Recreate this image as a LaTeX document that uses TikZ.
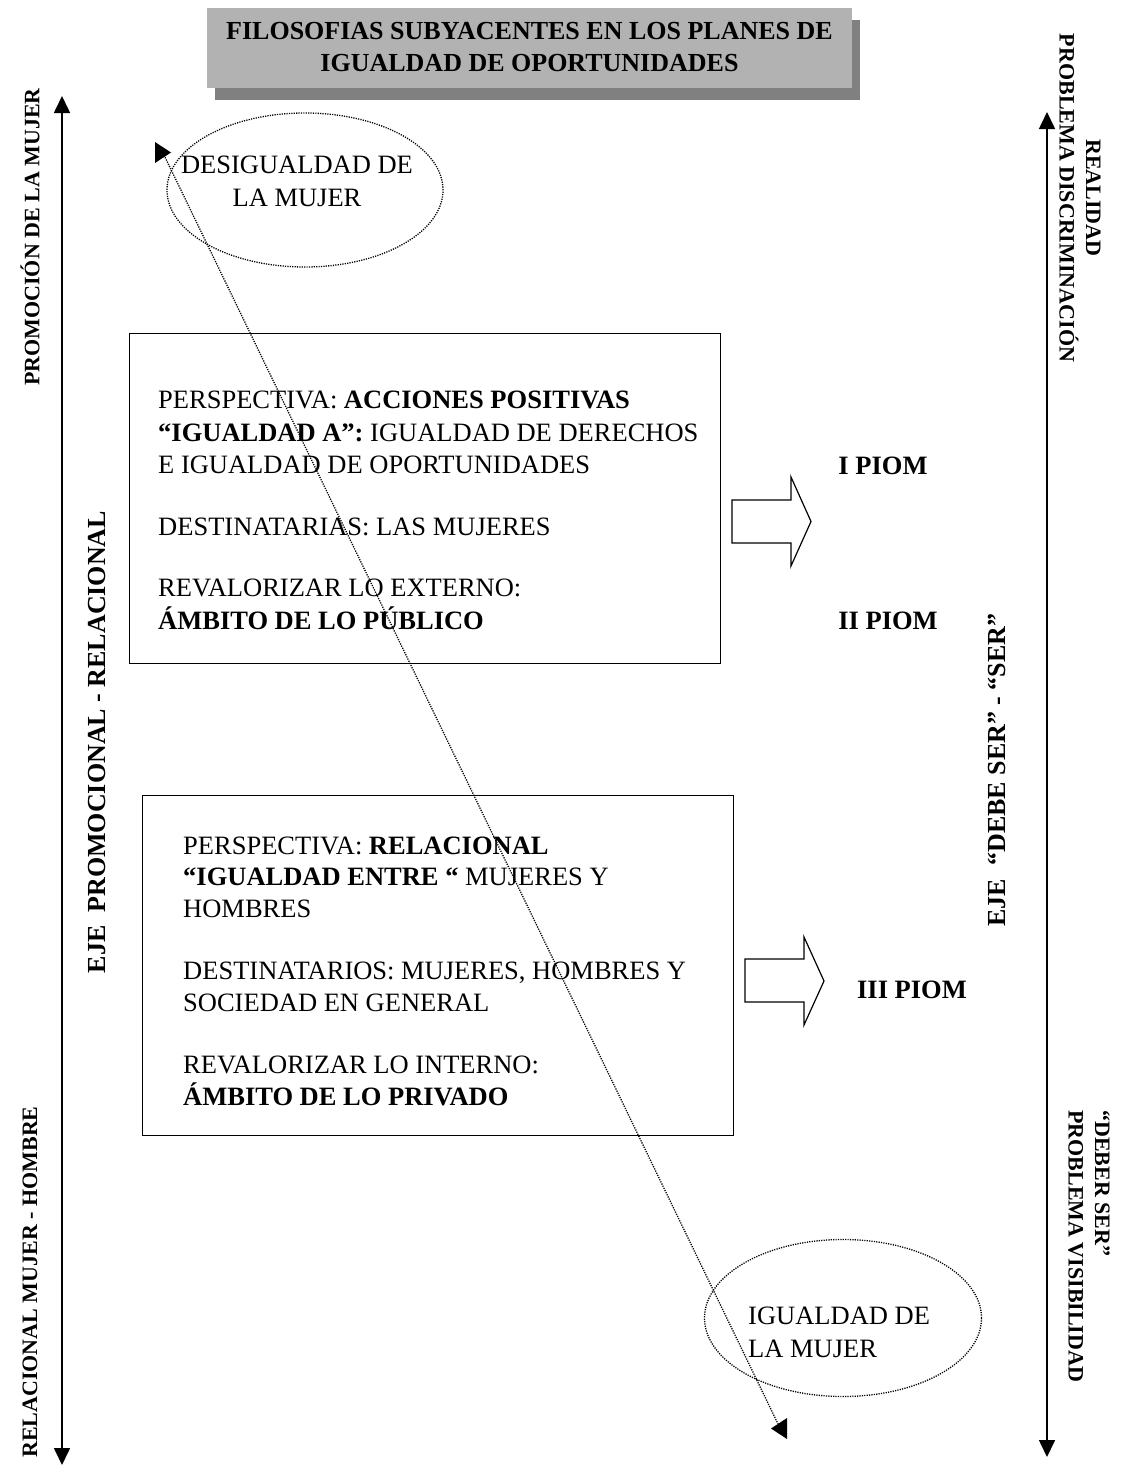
\documentclass[tikz,border=0pt]{standalone}
\usepackage{fontspec}
\setmainfont{Liberation Serif}
\usetikzlibrary{arrows.meta,shapes.geometric}
\definecolor{titlegray}{RGB}{178,178,178}
\definecolor{shadowgray}{RGB}{128,128,128}
\begin{document}
\begin{tikzpicture}[x=1pt,y=-1pt,
  bodytext/.style={font=\fontsize{26.5}{32.5}\selectfont, inner sep=0pt, align=left},
  axlbl/.style={font=\fontsize{22}{26.5}\selectfont\bfseries, inner sep=0pt},
  bigaxlbl/.style={font=\fontsize{26}{31}\selectfont\bfseries, inner sep=0pt},
  framebox/.style={draw, line width=1.4pt, inner sep=0pt},
  axisline/.style={line width=1.6pt, {Triangle[length=17pt,width=16pt]}-{Triangle[length=17pt,width=16pt]}},
  dotline/.style={line width=1.3pt, dash pattern=on 1.2pt off 1.2pt},
  blockarrow/.style={draw, line width=1.2pt, line join=miter},
  piom/.style={font=\fontsize{26.5}{32}\selectfont\bfseries, inner sep=0pt},
  tipfill/.style={fill=black}
]
\useasboundingbox (0,0) rectangle (1127,1472);

% title
\node[fill=shadowgray, minimum width=645pt, minimum height=80pt, inner sep=0pt] (titleshadow) at (537.5,60) {};
\node[fill=titlegray, minimum width=645pt, minimum height=80pt, inner sep=0pt] (titlebox) at (529.5,48) {};
\node[font=\fontsize{26}{32}\selectfont\bfseries, align=center, inner sep=0pt, anchor=base] (titletext) at (529.5,71)
  {FILOSOFIAS SUBYACENTES EN LOS PLANES DE\\IGUALDAD DE OPORTUNIDADES};

% left axis
\coordinate (ltop) at (62,96);
\coordinate (lbot) at (62,1465);
\draw[axisline] (ltop) -- (lbot);
\node[axlbl, rotate=90] (promo) at (30,237) {PROMOCIÓN DE LA MUJER};
\node[axlbl, rotate=90] (relmh) at (30,1282) {RELACIONAL MUJER - HOMBRE};
\node[bigaxlbl, rotate=90] (ejeprom) at (97,742) {EJE\ \ PROMOCIONAL - RELACIONAL};

% right axis
\coordinate (rtop) at (1047,112);
\coordinate (rbot) at (1047,1457);
\draw[axisline] (rtop) -- (rbot);
\node[axlbl, rotate=-90, align=center] (realidad) at (1080,198) {REALIDAD\\PROBLEMA DISCRIMINACIÓN};
\node[axlbl, rotate=-90, align=left, anchor=west] (deberser) at (1089,1110) {“DEBER SER”\\PROBLEMA VISIBILIDAD};
\node[bigaxlbl, rotate=90] (ejedebe) at (997,770) {EJE\ \ “DEBE SER” - “SER”};

% ellipses
\node[ellipse, draw, dotline, minimum width=276pt, minimum height=154pt] (eltop) at (305,190) {};
\node[bodytext, align=center, anchor=base] (eltoptext) at (297,206) {DESIGUALDAD DE\\LA MUJER};
\node[ellipse, draw, dotline, minimum width=277pt, minimum height=157pt] (elbot) at (843,1318) {};
\node[bodytext, anchor=base west] (elbottext) at (748,1357) {IGUALDAD DE\\LA MUJER};

% boxes
\node[framebox, minimum width=591pt, minimum height=330pt, anchor=north west] (box1) at (129,333) {};
\node[bodytext, anchor=base west] (box1text) at (158,629)
  {PERSPECTIVA: \textbf{ACCIONES POSITIVAS}\\
   \textbf{“IGUALDAD A”:} IGUALDAD DE DERECHOS\\
   E IGUALDAD DE OPORTUNIDADES\\[29pt]
   DESTINATARIAS: LAS MUJERES\\[29pt]
   REVALORIZAR LO EXTERNO:\\
   \textbf{ÁMBITO DE LO PÚBLICO}};

\node[framebox, minimum width=591pt, minimum height=340pt, anchor=north west] (box2) at (142,795) {};
\node[bodytext, anchor=base west, font=\fontsize{26.5}{31.5}\selectfont] (box2text) at (183,1105)
  {PERSPECTIVA: \textbf{RELACIONAL}\\
   \textbf{“IGUALDAD ENTRE “} MUJERES Y\\
   HOMBRES\\[31pt]
   DESTINATARIOS: MUJERES, HOMBRES Y\\
   SOCIEDAD EN GENERAL\\[31pt]
   REVALORIZAR LO INTERNO:\\
   \textbf{ÁMBITO DE LO PRIVADO}};

% block arrows
\draw[blockarrow] (732,500) -- (791,500) -- (791,477) -- (811,521.5) -- (791,566) -- (791,543) -- (732,543) -- cycle;
\draw[blockarrow] (745,959) -- (804,959) -- (804,937) -- (824,981) -- (804,1025) -- (804,1002) -- (745,1002) -- cycle;

% PIOM labels
\node[piom] (piom1) at (883,466) {I PIOM};
\node[piom] (piom2) at (888,621) {II PIOM};
\node[piom] (piom3) at (912,990) {III PIOM};

% dotted diagonal connector
\coordinate (dstart) at (163,153);
\coordinate (dend) at (780,1428);
\draw[dotline] (dstart) -- (dend);
\fill[tipfill] (155,142) -- (171,152.5) -- (155,163) -- cycle;
\fill[tipfill] (787,1418) -- (771,1428.5) -- (787,1439) -- cycle;
\end{tikzpicture}
\end{document}
